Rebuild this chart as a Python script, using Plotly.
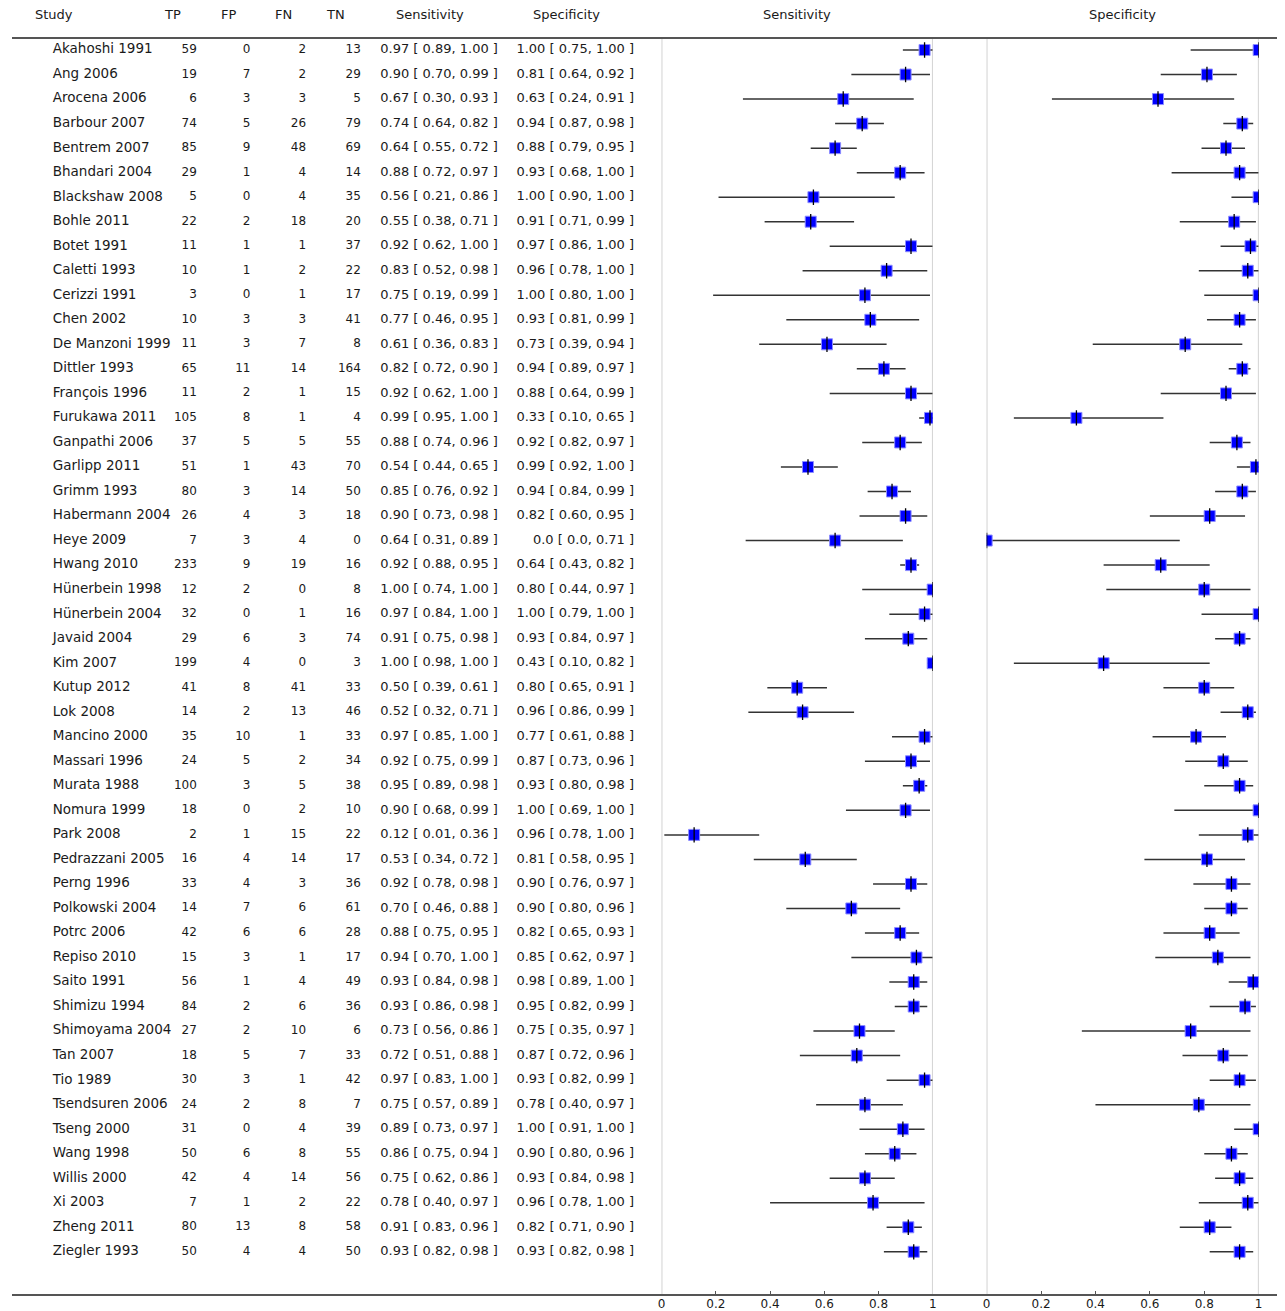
import plotly.graph_objects as go

studies = ["Akahoshi 1991", "Ang 2006", "Arocena 2006", "Barbour 2007", "Bentrem 2007",
           "Bhandari 2004", "Blackshaw 2008", "Bohle 2011", "Botet 1991", "Caletti 1993",
           "Cerizzi 1991", "Chen 2002", "De Manzoni 1999", "Dittler 1993", "François 1996",
           "Furukawa 2011", "Ganpathi 2006", "Garlipp 2011", "Grimm 1993", "Habermann 2004",
           "Heye 2009", "Hwang 2010", "Hünerbein 1998", "Hünerbein 2004", "Javaid 2004",
           "Kim 2007", "Kutup 2012", "Lok 2008", "Mancino 2000", "Massari 1996",
           "Murata 1988", "Nomura 1999", "Park 2008", "Pedrazzani 2005", "Perng 1996",
           "Polkowski 2004", "Potrc 2006", "Repiso 2010", "Saito 1991", "Shimizu 1994",
           "Shimoyama 2004", "Tan 2007", "Tio 1989", "Tsendsuren 2006", "Tseng 2000",
           "Wang 1998", "Willis 2000", "Xi 2003", "Zheng 2011", "Ziegler 1993"]

TP = [59, 19, 6, 74, 85, 29, 5, 22, 11, 10, 3, 10, 11, 65, 11, 105, 37, 51, 80, 26,
      7, 233, 12, 32, 29, 199, 41, 14, 35, 24, 100, 18, 2, 16, 33, 14, 42, 15, 56, 84,
      27, 18, 30, 24, 31, 50, 42, 7, 80, 50]
FP = [0, 7, 3, 5, 9, 1, 0, 2, 1, 1, 0, 3, 3, 11, 2, 8, 5, 1, 3, 4,
      3, 9, 2, 0, 6, 4, 8, 2, 10, 5, 3, 0, 1, 4, 4, 7, 6, 3, 1, 2,
      2, 5, 3, 2, 0, 6, 4, 1, 13, 4]
FN = [2, 2, 3, 26, 48, 4, 4, 18, 1, 2, 1, 3, 7, 14, 1, 1, 5, 43, 14, 3,
      4, 19, 0, 1, 3, 0, 41, 13, 1, 2, 5, 2, 15, 14, 3, 6, 6, 1, 4, 6,
      10, 7, 1, 8, 4, 8, 14, 2, 8, 4]
TN = [13, 29, 5, 79, 69, 14, 35, 20, 37, 22, 17, 41, 8, 164, 15, 4, 55, 70, 50, 18,
      0, 16, 8, 16, 74, 3, 33, 46, 33, 34, 38, 10, 22, 17, 36, 61, 28, 17, 49, 36,
      6, 33, 42, 7, 39, 55, 56, 22, 58, 50]

sens = [0.97, 0.90, 0.67, 0.74, 0.64, 0.88, 0.56, 0.55, 0.92, 0.83, 0.75, 0.77, 0.61, 0.82, 0.92,
        0.99, 0.88, 0.54, 0.85, 0.90, 0.64, 0.92, 1.00, 0.97, 0.91, 1.00, 0.50, 0.52, 0.97, 0.92,
        0.95, 0.90, 0.12, 0.53, 0.92, 0.70, 0.88, 0.94, 0.93, 0.93, 0.73, 0.72, 0.97, 0.75, 0.89,
        0.86, 0.75, 0.78, 0.91, 0.93]
sens_lo = [0.89, 0.70, 0.30, 0.64, 0.55, 0.72, 0.21, 0.38, 0.62, 0.52, 0.19, 0.46, 0.36, 0.72, 0.62,
           0.95, 0.74, 0.44, 0.76, 0.73, 0.31, 0.88, 0.74, 0.84, 0.75, 0.98, 0.39, 0.32, 0.85, 0.75,
           0.89, 0.68, 0.01, 0.34, 0.78, 0.46, 0.75, 0.70, 0.84, 0.86, 0.56, 0.51, 0.83, 0.57, 0.73,
           0.75, 0.62, 0.40, 0.83, 0.82]
sens_hi = [1.00, 0.99, 0.93, 0.82, 0.72, 0.97, 0.86, 0.71, 1.00, 0.98, 0.99, 0.95, 0.83, 0.90, 1.00,
           1.00, 0.96, 0.65, 0.92, 0.98, 0.89, 0.95, 1.00, 1.00, 0.98, 1.00, 0.61, 0.71, 1.00, 0.99,
           0.98, 0.99, 0.36, 0.72, 0.98, 0.88, 0.95, 1.00, 0.98, 0.98, 0.86, 0.88, 1.00, 0.89, 0.97,
           0.94, 0.86, 0.97, 0.96, 0.98]

spec = [1.00, 0.81, 0.63, 0.94, 0.88, 0.93, 1.00, 0.91, 0.97, 0.96, 1.00, 0.93, 0.73, 0.94, 0.88,
        0.33, 0.92, 0.99, 0.94, 0.82, 0.0, 0.64, 0.80, 1.00, 0.93, 0.43, 0.80, 0.96, 0.77, 0.87,
        0.93, 1.00, 0.96, 0.81, 0.90, 0.90, 0.82, 0.85, 0.98, 0.95, 0.75, 0.87, 0.93, 0.78, 1.00,
        0.90, 0.93, 0.96, 0.82, 0.93]
spec_lo = [0.75, 0.64, 0.24, 0.87, 0.79, 0.68, 0.90, 0.71, 0.86, 0.78, 0.80, 0.81, 0.39, 0.89, 0.64,
           0.10, 0.82, 0.92, 0.84, 0.60, 0.0, 0.43, 0.44, 0.79, 0.84, 0.10, 0.65, 0.86, 0.61, 0.73,
           0.80, 0.69, 0.78, 0.58, 0.76, 0.80, 0.65, 0.62, 0.89, 0.82, 0.35, 0.72, 0.82, 0.40, 0.91,
           0.80, 0.84, 0.78, 0.71, 0.82]
spec_hi = [1.00, 0.92, 0.91, 0.98, 0.95, 1.00, 1.00, 0.99, 1.00, 1.00, 1.00, 0.99, 0.94, 0.97, 0.99,
           0.65, 0.97, 1.00, 0.99, 0.95, 0.71, 0.82, 0.97, 1.00, 0.97, 0.82, 0.91, 0.99, 0.88, 0.96,
           0.98, 1.00, 1.00, 0.95, 0.97, 0.96, 0.93, 0.97, 1.00, 0.99, 0.97, 0.96, 0.99, 0.97, 1.00,
           0.96, 0.98, 1.00, 0.90, 0.98]

axis_ticks = [0, 0.2, 0.4, 0.6, 0.8, 1]
axis_ticktext = ["0", "0.2", "0.4", "0.6", "0.8", "1"]

# the page places the figure 8px from the top-left corner
W, H = 1277, 1303
TOP, BOT = 30, 1287
rows = list(range(len(studies)))
FONT = "DejaVu Sans"
TXT = "#1a1a1a"


def fmt(v):
    return "0.0" if v == 0 else f"{v:.2f}"


def ci_text(p, lo, hi):
    return [f"{fmt(a)} [ {fmt(b)}, {fmt(c)} ]" for a, b, c in zip(p, lo, hi)]


fig = go.Figure()


def text_col(x, texts, pos, size=12):
    fig.add_trace(go.Scatter(
        x=[x] * len(texts), y=rows, text=[str(t) for t in texts], mode="text",
        textposition=pos, textfont=dict(family=FONT, size=size, color=TXT),
        xaxis="x3", yaxis="y", cliponaxis=False, hoverinfo="skip", showlegend=False))


text_col(41, studies, "middle right", 13.5)
text_col(186, TP, "middle left")
text_col(240, FP, "middle left")
text_col(296, FN, "middle left")
text_col(351, TN, "middle left")
text_col(489, ci_text(sens, sens_lo, sens_hi), "middle left", 13)
text_col(626, ci_text(spec, spec_lo, spec_hi), "middle left", 13)


def panel(p, lo, hi, xa):
    fig.add_trace(go.Scatter(
        x=p, y=rows, mode="markers", xaxis=xa, yaxis="y",
        error_x=dict(type="data", symmetric=False,
                     array=[h - v for v, h in zip(p, hi)],
                     arrayminus=[v - l for v, l in zip(p, lo)],
                     color="#333333", thickness=1.5, width=0),
        marker=dict(symbol="square", size=11, color="#0000ff",
                    line=dict(color="#8c8cff", width=1)),
        hoverinfo="skip", showlegend=False))
    fig.add_trace(go.Scatter(
        x=p, y=rows, mode="markers", xaxis=xa, yaxis="y",
        marker=dict(symbol="line-ns", size=11, color="black",
                    line=dict(color="black", width=1.3)),
        hoverinfo="skip", showlegend=False))


panel(sens, sens_lo, sens_hi, "x")
panel(spec, spec_lo, spec_hi, "x2")

ax_common = dict(range=[0, 1], tickvals=axis_ticks, ticktext=axis_ticktext,
                 ticks="inside", ticklen=4, tickwidth=1.2, tickcolor="#555555",
                 showgrid=False, zeroline=False, showline=False, anchor="y",
                 tickfont=dict(family=FONT, size=12, color=TXT), fixedrange=True)

fig.update_layout(
    width=W, height=H,
    margin=dict(l=0, r=0, t=TOP, b=H - BOT),
    plot_bgcolor="white", paper_bgcolor="white",
    xaxis=dict(domain=[653.7 / W, 926.5 / W], **ax_common),
    xaxis2=dict(domain=[980.8 / W, 1254.5 / W], **ax_common),
    xaxis3=dict(domain=[0, 637 / W], range=[0, 637], visible=False, anchor="y"),
    yaxis=dict(range=[50.76, -0.49], visible=False, domain=[0, 1], fixedrange=True),
    showlegend=False,
)

shapes = []
for xa in ("x", "x2"):
    for xv in (0, 1):
        shapes.append(dict(type="line", xref=xa, yref="paper", x0=xv, x1=xv, y0=0, y1=1,
                           line=dict(color="#c4c4c4", width=1.5), layer="below"))
for yv in (0, 1):
    shapes.append(dict(type="line", xref="paper", yref="paper", x0=0, x1=1, y0=yv, y1=yv,
                       line=dict(color="#555555", width=2)))
fig.update_layout(shapes=shapes)

hy = (BOT - 6) / (BOT - TOP)
ann = []
hdr = dict(family=FONT, size=13, color=TXT)
ann.append(dict(text="Study", xref="x3", yref="paper", x=21, y=hy, xanchor="left",
                yanchor="middle", showarrow=False, font=hdr))
for label, cx in (("TP", 162), ("FP", 218), ("FN", 273), ("TN", 326),
                  ("Sensitivity", 421), ("Specificity", 558)):
    ann.append(dict(text=label, xref="x3", yref="paper", x=cx, y=hy, xanchor="center",
                    yanchor="middle", showarrow=False, font=hdr))
ann.append(dict(text="Sensitivity", xref="x domain", yref="paper", x=0.5, y=hy,
                xanchor="center", yanchor="middle", showarrow=False, font=hdr))
ann.append(dict(text="Specificity", xref="x2 domain", yref="paper", x=0.5, y=hy,
                xanchor="center", yanchor="middle", showarrow=False, font=hdr))
fig.update_layout(annotations=ann)

fig.write_html("out.html")
